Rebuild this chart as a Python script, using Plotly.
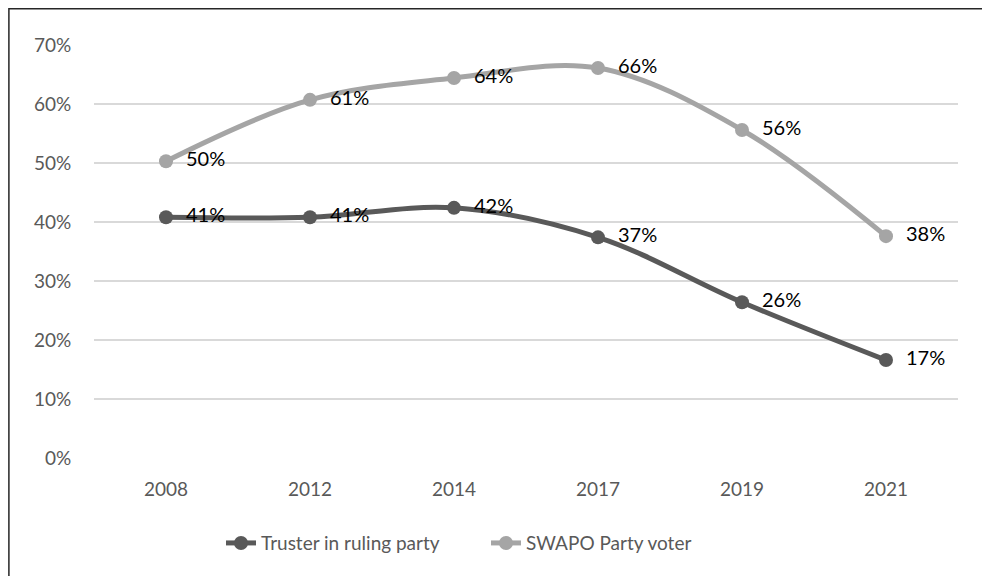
import plotly.graph_objects as go

years = ["2008", "2012", "2014", "2017", "2019", "2021"]
truster = [40.8, 40.8, 42.4, 37.4, 26.4, 16.6]
swapo = [50.3, 60.7, 64.4, 66.1, 55.6, 37.6]
truster_labels = ["41%", "41%", "42%", "37%", "26%", "17%"]
swapo_labels = ["50%", "61%", "64%", "66%", "56%", "38%"]

FONT = "Lato, Noto Sans, sans-serif"
PAD = "\u00a0\u00a0"

fig = go.Figure()
fig.add_trace(go.Scatter(
    x=years, y=truster, name="Truster in ruling party",
    mode="lines+markers+text", text=[PAD + t for t in truster_labels], textposition="middle right",
    line=dict(color="#595959", width=5, shape="spline", smoothing=1.0),
    marker=dict(color="#595959", size=14),
    textfont=dict(color="#000000", size=20, family=FONT),
))
fig.add_trace(go.Scatter(
    x=years, y=swapo, name="SWAPO Party voter",
    mode="lines+markers+text", text=[PAD + t for t in swapo_labels], textposition="middle right",
    line=dict(color="#A5A5A5", width=5, shape="spline", smoothing=1.0),
    marker=dict(color="#A5A5A5", size=14),
    textfont=dict(color="#000000", size=20, family=FONT),
))

fig.update_layout(
    width=982, height=568,
    margin=dict(l=86, r=32, t=37, b=118),
    paper_bgcolor="white", plot_bgcolor="white",
    font=dict(family=FONT, size=19, color="#595959"),
    showlegend=True,
    legend=dict(orientation="h", x=0.147, xanchor="left", y=-0.206, yanchor="middle",
                font=dict(size=19, color="#595959"), tracegroupgap=0,
                entrywidth=220, entrywidthmode="pixels"),
    shapes=[dict(type="rect", xref="paper", yref="paper",
                 x0=-0.0985, x1=1.2, y0=-0.5, y1=1.0880,
                 line=dict(color="#262626", width=1.5), fillcolor="rgba(0,0,0,0)", layer="below")],
)
fig.update_xaxes(type="category", range=[-0.5, 5.5], showgrid=False, zeroline=False,
                 showline=False, ticks="outside", ticklen=14, tickcolor="rgba(0,0,0,0)",
                 tickfont=dict(size=19, color="#595959"))
fig.update_yaxes(range=[0, 70], dtick=10, ticksuffix="%", showgrid=True, gridcolor="#D9D9D9",
                 gridwidth=1.5, zeroline=False, showline=False, ticks="outside", ticklen=18,
                 tickcolor="rgba(0,0,0,0)", tickfont=dict(size=19, color="#595959"))

fig.write_html("out.html")
